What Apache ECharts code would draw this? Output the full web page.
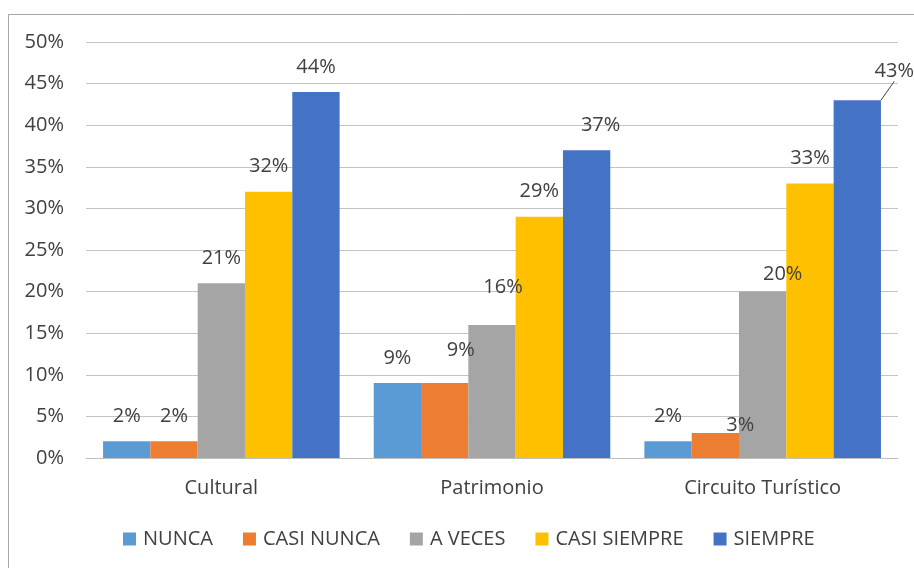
<!DOCTYPE html>
<html>
<head>
<meta charset="utf-8">
<script src="https://cdn.jsdelivr.net/npm/echarts@6/dist/echarts.min.js"></script>
<style>html,body{margin:0;padding:0;background:#fff;}#c{width:914px;height:568px;}</style>
</head>
<body>
<div id="c"></div>
<script>
const categories = ['Cultural', 'Patrimonio', 'Circuito Turístico'];
const seriesNames = ['NUNCA', 'CASI NUNCA', 'A VECES', 'CASI SIEMPRE', 'SIEMPRE'];
const nunca = [2, 9, 2];
const casiNunca = [2, 9, 3];
const aVeces = [21, 16, 20];
const casiSiempre = [32, 29, 33];
const siempre = [44, 37, 43];
const yTicks = [0, 5, 10, 15, 20, 25, 30, 35, 40, 45, 50];

const colors = ['#5B9BD5', '#ED7D31', '#A5A5A5', '#FFC000', '#4472C4'];
const values = [nunca, casiNunca, aVeces, casiSiempre, siempre];
// label nudges [series][category] = [dx, dy]
const labelNudges = [
  [[0,0],[0,0],[0,0]],
  [[0,0],[16,-8],[25,17]],
  [[0,0],[11,-13],[20,8]],
  [[0,0],[0,0],[0,0]],
  [[0,0],[14,0],[37,-4]]
];
const leaderLines = [[4, 2]];

const font = 'Open Sans';
const txt = '#404040';

const chart = echarts.init(document.getElementById('c'), null, {renderer: 'canvas'});
const series = seriesNames.map((name, si) => ({
  name: name,
  type: 'bar',
  barGap: '0%',
  barCategoryGap: '12.6%',
  itemStyle: {color: colors[si]},
  label: {
    show: true, position: 'top', distance: 15,
    formatter: '{c}%', fontFamily: font, fontSize: 20, color: txt
  },
  labelLine: {show: false},
  labelLayout: function (p) {
    const n = labelNudges[si][p.dataIndex];
    return {dx: n[0], dy: n[1]};
  },
  data: values[si].map((v, ci) => {
    const isLeader = leaderLines.some(l => l[0] === si && l[1] === ci);
    return isLeader ? {value: v, labelLine: {show: true, lineStyle: {color: '#404040', width: 1}}} : {value: v};
  })
}));

chart.setOption({
  animation: false,
  backgroundColor: '#fff',
  color: colors,
  graphic: [{
    type: 'rect', z: -10,
    shape: {x: 8.5, y: 14.5, width: 1000, height: 1000},
    style: {fill: 'none', stroke: '#a6a6a6', lineWidth: 1}
  }],
  grid: {left: 86, right: 16, top: 42, bottom: 110, containLabel: false},
  legend: {
    data: seriesNames,
    left: 118, top: 524,
    icon: 'rect', itemWidth: 13, itemHeight: 13, itemGap: 30,
    textStyle: {fontFamily: font, fontSize: 20, color: txt, padding: [0, 0, 0, 2]}
  },
  xAxis: {
    type: 'category', data: categories,
    axisTick: {show: false},
    axisLine: {lineStyle: {color: '#bfbfbf', width: 1}},
    axisLabel: {fontFamily: font, fontSize: 20, color: txt, margin: 20}
  },
  yAxis: {
    type: 'value', min: yTicks[0], max: yTicks[yTicks.length - 1], interval: 5,
    axisLine: {show: false}, axisTick: {show: false},
    splitLine: {lineStyle: {color: '#c4c4c4', width: 1}},
    axisLabel: {fontFamily: font, fontSize: 20, color: txt, margin: 22, formatter: '{value}%'}
  },
  series: series
});
</script>
</body>
</html>
